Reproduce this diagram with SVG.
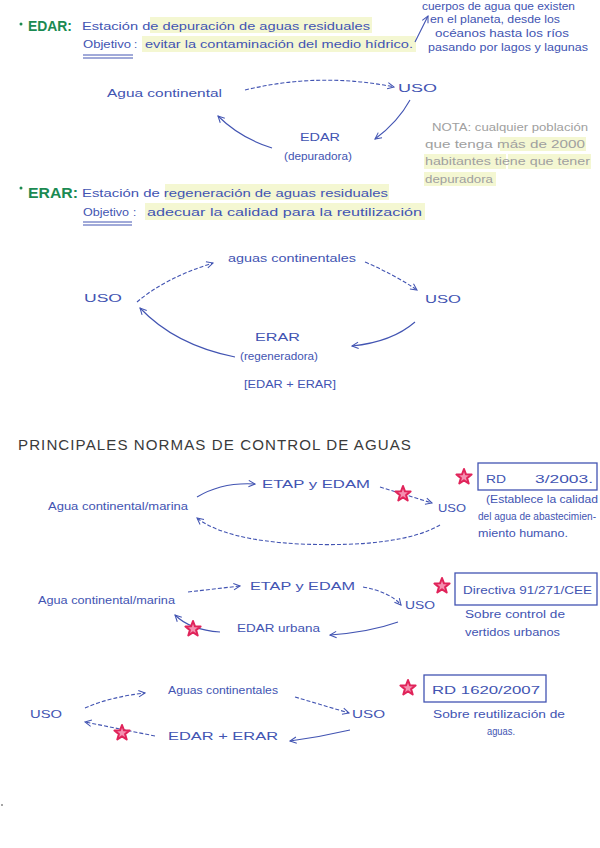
<svg xmlns="http://www.w3.org/2000/svg" width="600" height="848" viewBox="0 0 600 848">
<style>
text{font-family:"Liberation Sans","DejaVu Sans",sans-serif;}
.b{fill:#4254b2;font-size:11.5px;}
.s{fill:#4254b2;font-size:10px;}
.g{fill:#1b8a52;font-size:14px;font-weight:bold;}
.n{fill:#a0a0a0;font-size:10.5px;}
.t{fill:#3a3a3a;font-size:14px;letter-spacing:1px;}
.hl{fill:#f4f7d2;}
.c{fill:none;stroke:#4254b2;stroke-width:1.1;marker-end:url(#ah);}
.d{stroke-dasharray:4 2;}
.box{fill:none;stroke:#4254b2;stroke-width:1.3;}
.ul{stroke:#4254b2;stroke-width:1;}
</style>
<defs>
<marker id="ah" viewBox="0 0 10 10" refX="9" refY="5" markerWidth="8" markerHeight="8" orient="auto" markerUnits="userSpaceOnUse">
<path d="M1,1 L9,5 L1,9" fill="none" stroke="#4254b2" stroke-width="1.3"/>
</marker>
<symbol id="star" viewBox="-10 -10 20 20" overflow="visible">
<polygon points="0,-8 2,-2.7 7.6,-2.5 3.1,1.1 4.7,6.5 0,3.3 -4.7,6.5 -3.1,1.1 -7.6,-2.5 -2,-2.7" fill="#f590b0" stroke="#e0245a" stroke-width="2" stroke-linejoin="round"/>
</symbol>
</defs>
<rect width="600" height="848" fill="#ffffff"/>

<g id="highlights">
<rect class="hl" x="150" y="17" width="222" height="16"/>
<rect class="hl" x="142" y="36" width="274" height="16"/>
<rect class="hl" x="500" y="137" width="86" height="14"/>
<rect class="hl" x="424" y="154" width="82" height="15"/>
<rect class="hl" x="508" y="154" width="83" height="15"/>
<rect class="hl" x="424" y="172" width="72" height="14"/>
<rect class="hl" x="165" y="184" width="224" height="16"/>
<rect class="hl" x="145" y="203" width="280" height="17"/>
</g>

<g id="edar-header">
<circle cx="21" cy="24" r="1.5" fill="#1b8a52"/>
<text class="g" x="28" y="31" textLength="44" lengthAdjust="spacingAndGlyphs">EDAR:</text>
<text class="b" x="82" y="30" textLength="288" lengthAdjust="spacingAndGlyphs">Estación de depuración de aguas residuales</text>
<text class="b" x="83" y="48" textLength="48" lengthAdjust="spacingAndGlyphs">Objetivo</text>
<text class="b" x="134" y="48">:</text>
<line class="ul" x1="83" y1="55" x2="133" y2="55"/>
<line class="ul" x1="83" y1="58" x2="133" y2="58"/>
<text class="b" x="145" y="48" textLength="268" lengthAdjust="spacingAndGlyphs">evitar la contaminación del medio hídrico.</text>
</g>

<g id="note-medio-hidrico">
<text class="s" x="422" y="10" textLength="153" lengthAdjust="spacingAndGlyphs">cuerpos de agua que existen</text>
<text class="s" x="430" y="23" textLength="130" lengthAdjust="spacingAndGlyphs">en el planeta, desde los</text>
<text class="s" x="435" y="37" textLength="134" lengthAdjust="spacingAndGlyphs">océanos hasta los ríos</text>
<text class="s" x="428" y="51" textLength="160" lengthAdjust="spacingAndGlyphs">pasando por lagos y lagunas</text>
</g>

<g id="d1-agua"><text class="b" x="107" y="97" textLength="115" lengthAdjust="spacingAndGlyphs">Agua continental</text></g>
<g id="d1-uso"><text class="b" x="398" y="92" font-size="13" textLength="39" lengthAdjust="spacingAndGlyphs">USO</text></g>
<g id="d1-edar">
<text class="b" x="300" y="141" textLength="40" lengthAdjust="spacingAndGlyphs">EDAR</text>
<text class="s" x="284" y="160" textLength="68" lengthAdjust="spacingAndGlyphs">(depuradora)</text>
</g>

<g id="nota">
<text class="n" x="432" y="131" textLength="156" lengthAdjust="spacingAndGlyphs">NOTA: cualquier población</text>
<text class="n" x="425" y="148" textLength="160" lengthAdjust="spacingAndGlyphs">que tenga más de 2000</text>
<text class="n" x="425" y="165" textLength="165" lengthAdjust="spacingAndGlyphs">habitantes tiene que tener</text>
<text class="n" x="425" y="183" textLength="68" lengthAdjust="spacingAndGlyphs">depuradora</text>
</g>

<g id="erar-header">
<circle cx="21" cy="188" r="1.5" fill="#1b8a52"/>
<text class="g" x="28" y="198" textLength="50" lengthAdjust="spacingAndGlyphs">ERAR:</text>
<text class="b" x="82" y="197" textLength="306" lengthAdjust="spacingAndGlyphs">Estación de regeneración de aguas residuales</text>
<text class="b" x="83" y="216" textLength="46" lengthAdjust="spacingAndGlyphs">Objetivo</text>
<text class="b" x="133" y="216">:</text>
<line class="ul" x1="83" y1="222" x2="132" y2="222"/>
<line class="ul" x1="83" y1="225" x2="132" y2="225"/>
<text class="b" x="147" y="216" textLength="275" lengthAdjust="spacingAndGlyphs">adecuar la calidad para la reutilización</text>
</g>

<g id="d2-aguas"><text class="b" x="228" y="262" textLength="128" lengthAdjust="spacingAndGlyphs">aguas continentales</text></g>
<g id="d2-uso-left"><text class="b" x="84" y="302" font-size="13" textLength="38" lengthAdjust="spacingAndGlyphs">USO</text></g>
<g id="d2-uso-right"><text class="b" x="425" y="303" font-size="13" textLength="36" lengthAdjust="spacingAndGlyphs">USO</text></g>
<g id="d2-erar">
<text class="b" x="255" y="341" font-size="13" textLength="45" lengthAdjust="spacingAndGlyphs">ERAR</text>
<text class="s" x="240" y="360" textLength="78" lengthAdjust="spacingAndGlyphs">(regeneradora)</text>
<text class="b" x="244" y="388" textLength="92" lengthAdjust="spacingAndGlyphs">[EDAR + ERAR]</text>
</g>

<g id="title"><text class="t" x="18" y="450" textLength="394" lengthAdjust="spacingAndGlyphs">PRINCIPALES NORMAS DE CONTROL DE AGUAS</text></g>

<g id="d3-agua"><text class="b" x="48" y="510" textLength="140" lengthAdjust="spacingAndGlyphs">Agua continental/marina</text></g>
<g id="d3-etap"><text class="b" x="262" y="488" textLength="108" lengthAdjust="spacingAndGlyphs">ETAP y EDAM</text></g>
<g id="d3-uso"><text class="b" x="438" y="512" font-size="13" textLength="28" lengthAdjust="spacingAndGlyphs">USO</text></g>
<g id="d3-norma">
<use href="#star" x="454" y="467" width="20" height="20"/>
<rect class="box" x="478" y="463" width="119" height="27"/>
<text class="b" x="486" y="483" textLength="20" lengthAdjust="spacingAndGlyphs">RD</text>
<text class="b" x="535" y="483" textLength="58" lengthAdjust="spacingAndGlyphs">3/2003.</text>
<text class="s" x="486" y="503" textLength="112" lengthAdjust="spacingAndGlyphs">(Establece la calidad</text>
<text class="s" x="478" y="520" textLength="118" lengthAdjust="spacingAndGlyphs">del agua de abastecimien-</text>
<text class="s" x="478" y="537" textLength="90" lengthAdjust="spacingAndGlyphs">miento humano.</text>
</g>

<g id="d4-agua"><text class="b" x="38" y="604" textLength="137" lengthAdjust="spacingAndGlyphs">Agua continental/marina</text></g>
<g id="d4-etap"><text class="b" x="250" y="590" textLength="105" lengthAdjust="spacingAndGlyphs">ETAP y EDAM</text></g>
<g id="d4-uso"><text class="b" x="405" y="609" font-size="13" textLength="30" lengthAdjust="spacingAndGlyphs">USO</text></g>
<g id="d4-edar"><text class="b" x="237" y="632" textLength="83" lengthAdjust="spacingAndGlyphs">EDAR urbana</text></g>
<g id="d4-norma">
<use href="#star" x="432" y="576" width="20" height="20"/>
<rect class="box" x="455" y="573" width="142" height="32"/>
<text class="b" x="463" y="594" textLength="129" lengthAdjust="spacingAndGlyphs">Directiva 91/271/CEE</text>
<text class="s" x="465" y="618" textLength="100" lengthAdjust="spacingAndGlyphs">Sobre control de</text>
<text class="s" x="465" y="636" textLength="95" lengthAdjust="spacingAndGlyphs">vertidos urbanos</text>
</g>

<g id="d5-uso-left"><text class="b" x="30" y="718" font-size="13" textLength="32" lengthAdjust="spacingAndGlyphs">USO</text></g>
<g id="d5-aguas"><text class="b" x="168" y="694" textLength="110" lengthAdjust="spacingAndGlyphs">Aguas continentales</text></g>
<g id="d5-uso-right"><text class="b" x="352" y="718" font-size="13" textLength="33" lengthAdjust="spacingAndGlyphs">USO</text></g>
<g id="d5-edar-erar"><text class="b" x="168" y="740" font-size="13" textLength="110" lengthAdjust="spacingAndGlyphs">EDAR + ERAR</text></g>
<g id="d5-norma">
<use href="#star" x="398" y="678" width="20" height="20"/>
<rect class="box" x="424" y="675" width="122" height="27"/>
<text class="b" x="432" y="694" textLength="108" lengthAdjust="spacingAndGlyphs">RD 1620/2007</text>
<text class="s" x="433" y="718" textLength="132" lengthAdjust="spacingAndGlyphs">Sobre reutilización de</text>
<text class="s" x="487" y="735" font-size="8" textLength="28" lengthAdjust="spacingAndGlyphs">aguas.</text>
</g>

<g id="connectors">
<path class="c" d="M415,42 L428,16"/>
<path class="c d" d="M245,90 Q320,72 394,87"/>
<path class="c" d="M410,100 Q398,122 375,139"/>
<path class="c" d="M272,148 Q240,138 218,116"/>
<path class="c d" d="M137,302 Q165,278 213,263"/>
<path class="c d" d="M365,262 Q395,275 417,290"/>
<path class="c" d="M415,322 Q392,342 352,346"/>
<path class="c" d="M235,357 Q175,345 140,308"/>
<path class="c" d="M197,497 Q222,482 255,484"/>
<path class="c d" d="M380,487 L432,503"/>
<path class="c d" d="M440,525 Q400,548 300,544 Q225,540 197,518"/>
<path class="c d" d="M188,592 L240,586"/>
<path class="c d" d="M363,587 Q390,592 401,605"/>
<path class="c" d="M398,622 Q370,632 330,635"/>
<path class="c" d="M220,632 Q190,630 175,615"/>
<path class="c d" d="M85,708 Q110,697 145,693"/>
<path class="c d" d="M295,697 L349,713"/>
<path class="c" d="M350,730 Q320,737 290,741"/>
<path class="c d" d="M155,736 L85,722"/>
</g>

<g id="red-stars">
<use href="#star" x="393" y="484" width="20" height="20"/>
<use href="#star" x="183" y="619" width="20" height="20"/>
<use href="#star" x="112" y="723" width="20" height="20"/>
</g>

<circle cx="2" cy="805" r="0.8" fill="#333"/>
</svg>
